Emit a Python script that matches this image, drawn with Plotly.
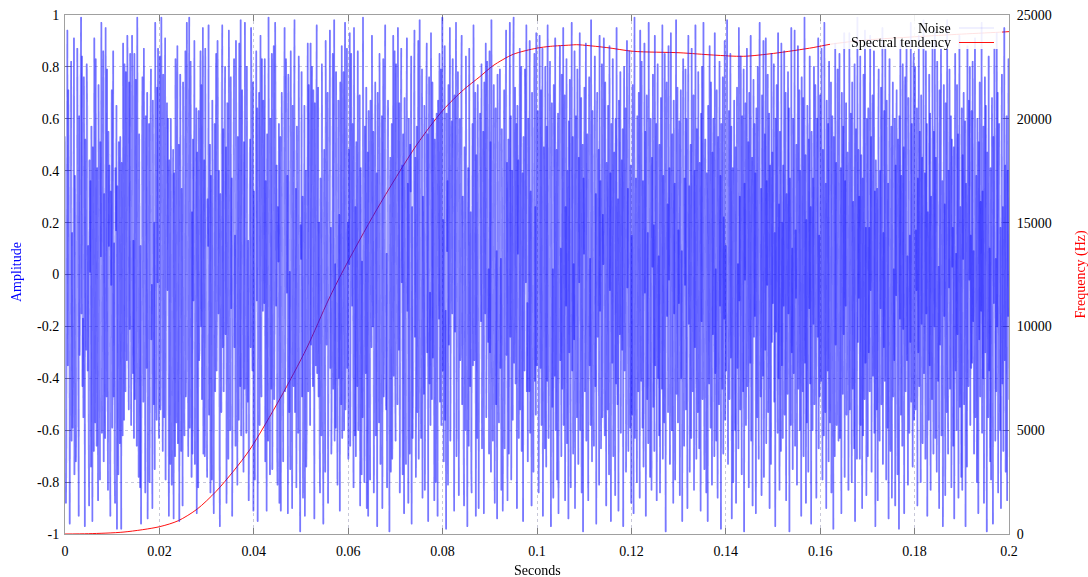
import numpy as np
import plotly.graph_objects as go

# ---------------- data ----------------
noise_duration = 0.2  # seconds covered by the noise samples
noise = [
    .53,.21,-.88,-.67,.12,.94,-.35,.71,.48,-.05,-.96,-.33,.27,.82,-.64,.16,-.59,-.42,.09,.91,
    -.77,.38,.19,-.72,-.58,.03,.87,.46,-.24,-.93,.61,-.31,-.08,.69,.99,-.15,.84,-.43,-.17,-.55,
    .76,.22,-.97,.52,-.06,-.29,.81,.64,-.37,.11,-.62,-.89,.44,.01,.36,-.74,.57,-.28,-.95,.49,
    -.13,-.68,.91,.19,-.57,.83,-.24,-.66,.41,.02,-.87,.73,.34,-.26,-.79,.51,.07,.97,-.61,-.14,
    .39,.86,-.72,.31,-.18,-.63,.95,.07,-.47,.79,-.26,-.83,.55,.11,.42,-.68,-.93,.32,-.04,.71,
    -.59,.23,.86,-.47,.12,-.73,-.88,.41,.17,.65,-.98,.34,-.23,-.77,.51,.09,-.65,.53,.29,-.98,
    .43,-.08,-.62,.89,.27,-.56,.81,-.14,-.45,.78,.18,-.33,.92,.67,-.04,-.52,.74,-.21,.85,.39,
    -.58,-.16,.92,.69,-.38,.13,-.63,.85,-.48,-.28,.75,.01,-.66,.99,.35,-.25,-.78,.54,.22,-.82,
    .11,-.96,-.45,.54,.76,-.02,-.49,.87,.32,-.19,-.84,.61,.15,-.36,.7,-.94,-.44,.06,.58,-.8,
    -.3,.6,.79,-.25,-.04,-.9,.67,.37,-.5,.2,-.75,.97,.46,-.13,-.56,.72,-.03,.87,-.4,-.63,
    .19,.84,-.52,-.27,.99,.46,-.09,-.68,.77,.3,-.55,-.12,.91,-.79,-.18,.41,.66,-.06,.6,-.35,
    -.93,.44,.12,-.73,.6,.2,-.81,-.57,.24,.48,-.94,.39,.1,-.7,.83,.05,-.57,.36,.88,-.65,
    -.22,.5,-.95,-.14,.77,.42,-.68,.33,.03,-.89,.74,.27,-.53,-.62,.16,.86,-.47,-.31,.97,.6,
    -.08,-.7,.43,.99,-.59,-.15,.82,.37,-.78,.24,-.69,.52,-.1,.38,.9,-.73,-.26,.16,.64,-.92,
    .47,.05,-.82,.63,-.33,-.29,.58,.86,-.2,.73,-.48,-.01,.95,-.69,.21,.44,-.7,.87,.35,-.14,
    -.61,-.78,.29,.11,.96,-.54,-.07,.5,-.84,.38,.18,-.79,.67,.23,-.4,-.92,.02,.58,-.45,.26,
    .85,-.37,-.17,.9,.63,-.15,.4,-.74,-.97,.31,.08,-.53,.71,.96,-.28,.56,-.45,-.12,.64,.8,
    -.23,.49,-.88,-.34,.66,.07,-.71,.94,.42,-.21,-.6,.76,-.13,.37,-.93,-.59,.04,.5,.83,-.28,
    .15,-.66,.9,.39,-.02,-.81,.53,-.25,-.56,.89,.17,-.43,.98,-.62,-.3,.71,.09,-.35,-.76,.51,
    -.44,.97,.22,-.06,-.61,.8,.35,-.49,.13,-.87,-.65,.04,.52,-.28,.95,.68,-.19,-.37,.74,-.91,
    .32,-.57,-.79,.18,.46,.86,-.1,.64,-.95,-.41,.25,.7,-.58,.03,.92,-.33,-.47,.83,.21,-.14,
    .67,.55,-.11,.83,-.72,.36,.03,-.91,.54,-.27,-.64,.99,.4,-.16,-.77,.6,.19,-.44,.85,-.75,
    -.31,.08,.88,-.48,-.23,.97,.69,-.12,.42,-.67,-.81,.26,.05,.58,-.88,.34,.53,-.91,-.16,.7,
    .46,-.34,-.72,.12,.6,.95,-.45,-.2,.83,.61,-.07,.38,-.92,.77,.24,-.53,.01,-.75,.86,.41,
    -.26,-.9,.65,.18,-.43,.7,.98,-.53,-.09,.33,-.82,.57,.29,-.14,-.61,.84,.36,-.68,-.99,.19,
    .06,.78,-.47,.3,-.86,-.55,.17,.65,-.93,.2,.4,-.74,-.62,.11,.89,-.45,.73,.32,-.07,-.58,
    .89,-.27,.5,.8,-.24,-.43,.71,-.02,-.94,.66,.15,-.35,.57,.96,-.38,-.1,.72,-.47,.2,-.63,
    -.84,.37,.14,-.62,.81,.3,-.59,-.96,.22,.48,-.07,-.76,.9,.49,-.27,.13,.7,-.88,-.4,.06,
    .53,.94,-.36,.18,-.69,-.52,.1,.85,-.44,.29,.98,-.64,.04,-.59,.78,.23,-.41,-.81,.15,.67,
    -.4,.23,-.91,.74,.16,-.5,.88,-.63,-.31,.05,.78,-.6,.33,.97,-.52,-.09,.45,.87,-.36,.2,
    -.71,.48,.04,.93,-.66,-.28,.85,.44,-.12,.58,-.37,-.82,.95,.19,-.62,.26,-.7,.51,.13,-.43,
    .86,-.6,-.34,.02,.69,-.89,.41,.23,-.77,.05,-.55,.99,.31,-.16,-.8,.57,.14,-.38,.72,-.9,
    -.11,.47,-.93,.63,.25,-.41,-.79,.67,.08,-.28,.92,.51,-.2,.55,-.84,-.32,.04,.74,-.62,.14,
    .39,-.97,.7,.35,-.12,-.57,.85,.31,-.73,-.46,.18,.61,-.9,.03,.83,-.47,-.27,.65,.96,-.29,
    -.52,.08,-.82,.37,.67,.21,-.48,-.99,.24,.45,-.76,.13,.58,-.71,-.1,.92,-.39,.19,.86,-.43,
    -.64,.81,.26,-.06,-.5,.95,.37,-.29,.66,-.84,-.15,.61,.87,-.03,.42,-.77,.54,.2,-.92,.68,
    .18,-.4,-.73,.59,.91,-.14,.35,-.88,.6,-.09,-.69,.5,.32,.84,-.96,.26,-.63,-.47,.02,.75,
    .94,-.24,.45,-.78,-.2,.57,-.53,.13,.9,-.71,-.36,.98,.17,-.4,-.63,.05,.79,-.86,.3,.01,
    -.46,.65,-.83,-.36,.11,.68,.89,-.3,.54,-.95,.23,.76,-.42,-.07,-.58,.93,.19,-.48,.74,-.32,
    .6,-.12,-.87,.52,.34,-.8,.03,.62,-.41,-.93,.67,.25,-.17,.85,-.49,.31,.79,-.58,-.06,.99,
    -.37,.21,-.72,.47,.88,-.56,-.14,-.98,.62,.09,.36,-.81,.73,-.27,.05,.95,-.64,-.28,.45,.59,
    -.15,.83,.4,-.1,-.91,.69,-.22,.44,.97,-.7,-.25,.52,.78,-.03,-.85,.38,.6,-.33,-.16,.77,
    .92,-.5,.3,.14,-.66,-.89,.49,.07,-.6,.84,.28,-.53,-.97,.19,.41,-.66,.87,.11,-.43,.24,
    -.75,-.84,.12,.58,-.35,.96,.58,-.33,-.2,.7,-.93,.46,.07,-.63,.73,.22,-.9,-.46,.04,.62,
    .37,-.18,.81,-.67,-.27,.04,.55,-.92,.74,.39,-.15,.89,-.55,-.31,.82,.6,-.26,.02,-.69,.86,
    -.3,.51,-.76,.98,.44,-.18,-.64,.42,.73,-.13,-.88,.35,.64,-.5,.09,-.94,.77,.21,-.47,-.57,
    .2,.79,-.36,.06,-.83,.56,.16,-.91,-.48,.3,.71,-.67,-.03,.6,.94,-.31,.43,-.87,.12,.52,
    -.69,.28,.97,-.24,.61,-.79,-.08,.4,-.56,.82,.99,-.34,-.15,.72,-.42,.17,.58,-.9,.65,.08,
    .44,-.63,-.16,.87,-.52,.25,.8,-.68,-.1,.39,-.95,.53,.21,-.37,.79,.67,-.03,.96,-.45,-.11,
    -.72,.6,.27,-.45,.9,-.61,.32,.06,-.89,.7,.19,-.5,-.76,.14,.85,-.41,.26,-.54,.93,-.35,
    -.18,.63,.29,-.84,-.47,.92,.05,-.36,.71,-.58,.14,.87,-.93,-.22,.49,.31,-.67,.8,-.09,-.74,
    .57,-.41,.96,.17,-.63,-.28,.44,.82,-.15,-.97,.38,.66,-.51,.02,-.86,.73,.25,-.39,.91,-.6,
    -.05,.48,-.79,.34,.62,-.92,-.17,.55,.88,-.33,.1,-.7,.77,-.44,-.21,.95,-.58,.13,.69,-.87,
    .26,-.12,.83,-.65,.4,.07,-.94,.59,-.3,.75,-.48,-.82,.18,.97,-.37,.53,-.69,.04,-.25,.86,
    -.9,.33,.61,-.16,-.55,.79,.22,-.73,.45,-.03,.93,-.6,-.31,.68,-.84,.15,.5,-.99,.37,.08,
    .72,-.45,-.2,.89,-.64,.28,.54,-.11,-.87,.41,.76,-.35,.06,-.58,.98,-.27,-.72,.63,.19,-.49,
    -.66,.12,.84,-.43,.31,-.96,.57,.7,-.24,-.08,.48,-.81,.92,-.14,.36,-.67,-.4,.81,-.55,.23,
    .04,.91,-.38,-.62,.74,.16,-.89,.43,.27,-.52,.65,-.18,-.77,.88,-.06,.39,-.95,.58,.11,-.34,
    .83,-.7,.21,.47,-.13,-.85,.6,-.42,.95,.03,-.5,.29,-.91,.67,.35,-.23,.78,-.61,-.09,.44,
    -.29,.56,-.97,.1,.8,-.37,.18,.64,-.76,-.46,.9,-.05,.33,-.68,.52,.86,-.2,-.59,.42,-.88,
    .15,-.54,.73,-.31,-.92,.47,.99,-.63,.08,.37,-.19,-.8,.61,.24,-.45,.7,-.03,-.86,.94,-.17,
    -.41,.82,.13,-.59,.36,-.74,-.25,.89,-.07,.55,-.93,.3,.69,-.48,.16,-.65,.97,.42,-.12,-.78,
    .6,-.26,-.83,.45,.03,.77,-.51,.19,-.68,.92,-.35,-.14,.58,-.87,.25,.81,-.4,.07,-.62,.5,
    -.84,.31,.68,-.09,-.44,.96,-.71,.38,.12,-.57,.85,-.28,-.99,.49,.74,-.16,.27,-.53,.88,-.02,
    .41,-.73,.2,.93,-.32,-.6,.54,.06,-.88,.67,-.15,.35,-.79,.13,.98,-.46,-.27,.72,-.57,.17,
    -.11,.59,-.85,.26,.71,-.4,.09,-.95,.46,.83,-.22,-.66,.37,-.04,.79,-.52,.6,-.3,-.9,.65,
    .92,-.19,.34,-.76,-.08,.5,-.63,.87,.21,-.45,.03,.69,-.83,.4,-.28,.96,.12,-.71,.56,-.37,
    -.53,.78,-.02,-.67,.43,.24,-.91,.62,-.18,.8,-.48,.1,.97,-.33,-.75,.29,.52,-.06,-.84,.39,
    .27,-.95,.65,.08,-.42,.88,-.14,-.59,.74,.32,-.81,.47,-.23,.6,.15,-.7,.93,-.38,.02,-.64,
    .71,-.3,-.86,.53,.19,-.5,.82,-.12,.38,-.98,.58,.05,-.44,.76,-.69,.22,-.17,.9,-.56,.11,
    -.37,.45,.98,-.21,-.73,.14,.63,-.48,-.05,.85,-.32,.57,-.94,.26,.41,-.8,.09,.67,-.15,-.6,
    .49,-.88,.17,.72,-.36,.04,-.67,.95,-.1,.3,-.52,.84,-.27,-.77,.61,.13,-.45,.79,-.99,.35,
    -.02,.66,-.58,.23,.87,-.43,-.19,.51,-.82,.7,.06,-.34,.92,-.64,.18,.45,-.89,.28,.75,-.24,
    .58,-.16,.39,-.92,.64,.11,-.55,.8,-.31,-.71,.48,.97,-.08,-.47,.33,-.85,.69,.02,-.39,.9,
    -.78,.07,.54,-.29,.91,-.65,.36,-.04,.77,-.53,-.18,.62,-.9,.42,.14,-.73,.85,-.26,.47,-.11,
    .34,.81,-.49,.16,-.97,.6,-.22,.73,.08,-.61,.93,-.4,.27,-.83,.55,-.07,-.68,.89,-.35,.2,
    -.63,.42,-.12,.86,-.54,-.25,.7,-.87,.31,.05,-.46,.78,-.15,.64,-.99,.37,.12,-.58,.95,-.3,
    .1,-.75,.6,-.38,.29,.94,-.66,.17,-.09,.5,-.81,.23,.88,-.44,-.2,.71,-.6,.4,.03,-.93,
    .76,-.28,-.45,.68,-.7,.13,.99,-.34,.46,-.88,.21,-.57,.65,.09,-.76,.52,-.13,.84,-.42,.26,
    -.96,.55,.2,-.6,.37,-.19,.8,-.5,-.32,.73,.07,-.86,.44,.6,-.24,.91,-.67,.15,-.47,.69,
    .22,-.41,.87,-.13,-.79,.48,.3,-.62,.97,-.06,-.53,.35,-.9,.67,.1,-.37,.58,-.72,.82,-.2,
    -.57,.09,.74,-.84,.25,.61,-.33,-.98,.53,.16,-.7,.89,-.27,.43,-.58,.04,.79,-.15,-.64,.5,
    .85,-.63,-.07,.41,-.92,.7,.19,-.46,.57,-.23,.93,-.78,.36,-.12,.66,-.54,-.31,.47,.14,-.83,
    -.19,.93,-.52,.05,.62,-.36,-.8,.74,-.44,.28,.11,-.67,.81,-.95,.39,.56,-.08,-.71,.99,-.26,
    .48,-.09,.3,-.71,.84,-.58,.46,.12,-.9,.37,-.62,.77,.02,-.48,.94,-.34,.18,-.85,.6,.07,
    -.7,.64,-.3,.18,-.45,.92,-.06,.53,-.76,.21,.69,-.39,-.14,.86,-.61,.32,-.97,.44,.25,-.52,
    .33,-.87,.58,.79,-.2,-.64,.4,-.13,.72,-.5,.06,.95,-.73,.16,-.28,.63,-.41,.88,-.04,-.79,
    .67,.14,-.59,.35,-.94,.49,.83,-.25,-.68,.11,.57,-.86,.27,.74,-.47,.02,-.33,.6,-.89,.42,
    -.08,.71,-.4,-.77,.52,.2,-.98,.61,-.17,.9,-.54,.38,.04,-.66,.81,-.21,.49,-.92,.29,.76,
    -.45,.26,.9,-.33,.07,-.81,.68,.43,-.61,.15,-.26,.97,-.49,.58,-.1,-.74,.34,.85,-.56,.13,
    .8,-.52,.17,-.06,.64,-.89,.37,-.3,.92,-.43,.55,.01,-.8,.69,-.19,.45,-.65,.21,.98,-.38,
    -.24,.39,-.71,.86,-.15,.58,-.93,.24,.1,-.56,.77,-.35,.62,-.83,.3,.14,-.48,.89,-.07,-.69,
    .55,-.2,.94,-.63,.45,-.04,-.76,.82,.23,-.41,.03,-.9,.71,-.27,.5,.87,-.62,-.11,.36,-.97,
    -.39,.73,-.16,.27,-.85,.66,.12,-.53,.98,-.32,-.69,.4,-.05,.79,-.44,.19,.61,-.82,.52,.03,
    .18,-.66,.49,-.94,.31,.85,-.37,.08,-.6,.73,-.23,.54,-.86,.13,.92,-.51,.26,-.14,-.78,.64,
    -.83,.46,.06,.7,-.5,-.12,.59,-.97,.35,.21,-.74,.88,-.29,-.43,.67,-.02,.8,-.58,.15,-.36,
    .63,-.34,.82,-.18,.09,-.69,.44,.91,-.55,-.08,.38,-.8,.6,.2,-.92,.51,-.25,.74,-.47,.28,
    -.14,.97,-.61,.32,-.4,.57,-.88,.13,.76,-.3,.65,-.19,-.99,.47,.02,-.55,.84,-.37,.1,-.72,
    .41,-.79,.23,.68,-.27,-.96,.53,-.11,.87,.37,-.64,.06,-.45,.93,-.2,.7,-.84,.31,.58,-.05,
    -.6,.18,-.9,.5,.77,-.42,.26,-.68,.12,.95,-.33,.42,-.76,.05,.61,-.87,.4,-.16,.83,-.48,
]

spec_t = [0, 0.005, 0.0125, 0.02, 0.024, 0.028, 0.032, 0.0357, 0.0392, 0.0456,
          0.0512, 0.0558, 0.059, 0.066, 0.0745, 0.0801, 0.0844, 0.0879, 0.0907, 0.095,
          0.0999, 0.1028, 0.107, 0.1084, 0.1148, 0.1204, 0.1303, 0.1374, 0.1437, 0.1501,
          0.1585, 0.1621, 0.17, 0.18, 0.19, 0.1987, 0.2]
spec_hz = [0, 15, 95, 350, 640, 1200, 2050, 3030, 4080, 6540,
           8950, 11270, 12720, 15610, 18740, 20420, 21390, 22030, 22560, 23110,
           23400, 23490, 23550, 23570, 23430, 23250, 23180, 23070, 23010, 23150,
           23430, 23590, 23800, 23950, 24080, 24180, 24200]

x_ticks = [0, 0.02, 0.04, 0.06, 0.08, 0.1, 0.12, 0.14, 0.16, 0.18, 0.2]
x_ticklabels = ["0", "0.02", "0.04", "0.06", "0.08", "0.1", "0.12", "0.14", "0.16", "0.18", "0.2"]
y_ticks = [-1, -0.8, -0.6, -0.4, -0.2, 0, 0.2, 0.4, 0.6, 0.8, 1]
y_ticklabels = ["-1", "-0.8", "-0.6", "-0.4", "-0.2", "0", "0.2", "0.4", "0.6", "0.8", "1"]
y2_ticks = [0, 5000, 10000, 15000, 20000, 25000]
y2_ticklabels = ["0", "5000", "10000", "15000", "20000", "25000"]

noise_t = np.linspace(0, noise_duration, len(noise))

# ---------------- figure ----------------
FONT = "Liberation Serif, Times New Roman, serif"
W, H = 1088, 577
L, R, T, B = 65, 79, 15, 43
pw, ph = W - L - R, H - T - B

def px(xp):
    return (xp - L) / pw

def py(yp):
    return (H - B - yp) / ph

fig = go.Figure()
fig.add_trace(go.Scattergl(
    x=noise_t, y=noise, mode="lines", name="Noise",
    line=dict(color="rgba(25,25,255,0.36)", width=1.8),
    hoverinfo="skip", showlegend=False,
))
fig.add_trace(go.Scatter(
    x=spec_t, y=spec_hz, mode="lines", name="Spectral tendency", yaxis="y2",
    line=dict(color="#ff1010", width=1, shape="spline", smoothing=0.8),
    showlegend=False,
))

axis_common = dict(
    showline=True, linecolor="#a0a0a0", linewidth=1,
    ticks="inside", ticklen=6, tickcolor="#808080",
    tickfont=dict(family=FONT, size=14, color="black"),
    zeroline=False, automargin=False,
)

fig.update_layout(
    width=W, height=H,
    margin=dict(l=L, r=R, t=T, b=B, autoexpand=False),
    paper_bgcolor="white", plot_bgcolor="white",
    font=dict(family=FONT, size=14, color="black"),
    showlegend=False,
    xaxis=dict(
        range=[0, 0.2], tickmode="array", tickvals=x_ticks, ticktext=x_ticklabels,
        showgrid=True, gridcolor="#c8c8d8", griddash="dot", gridwidth=1,
        mirror="ticks", ticklabelstandoff=4, **axis_common,
    ),
    yaxis=dict(
        range=[-1, 1], tickmode="array", tickvals=y_ticks, ticktext=y_ticklabels,
        showgrid=True, gridcolor="#c8c8d8", griddash="dot", gridwidth=1,
        mirror=True, ticklabelstandoff=2, **axis_common,
    ),
    yaxis2=dict(
        range=[0, 25000], tickmode="array", tickvals=y2_ticks, ticktext=y2_ticklabels,
        overlaying="y", side="right", showgrid=False, ticklabelstandoff=4,
        **axis_common,
    ),
)

# semi-opaque key box
fig.add_shape(type="rect", xref="paper", yref="paper",
              x0=px(830), x1=px(1002), y0=py(49), y1=py(15),
              fillcolor="white", opacity=0.88, line=dict(width=0), layer="above")
# key samples
fig.add_shape(type="line", xref="paper", yref="paper",
              x0=px(959), x1=px(994), y0=py(28), y1=py(28),
              line=dict(color="rgba(0,0,255,0.12)", width=1), layer="above")
fig.add_shape(type="line", xref="paper", yref="paper",
              x0=px(959), x1=px(994), y0=py(42.5), y1=py(42.5),
              line=dict(color="#ff1010", width=1), layer="above")

ann = [
    dict(text="Noise", x=px(953), y=py(28), xanchor="right", yanchor="middle"),
    dict(text="Spectral tendency", x=px(953), y=py(42.5), xanchor="right", yanchor="middle"),
    dict(text="Seconds", x=0.5, y=py(570), xanchor="center", yanchor="middle"),
    dict(text="Amplitude", x=px(16), y=py(272), xanchor="center", yanchor="middle",
         textangle=-90, font=dict(family=FONT, size=14, color="#0000ff")),
    dict(text="Frequency (Hz)", x=px(1080), y=py(274.5), xanchor="center", yanchor="middle",
         textangle=-90, font=dict(family=FONT, size=14, color="#ff0000")),
]
for a in ann:
    a.setdefault("font", dict(family=FONT, size=14, color="black"))
    fig.add_annotation(xref="paper", yref="paper", showarrow=False, **a)

fig.write_html("out.html", config={"displayModeBar": False},
               post_script="document.body.style.margin='0';document.body.style.overflow='hidden';")
